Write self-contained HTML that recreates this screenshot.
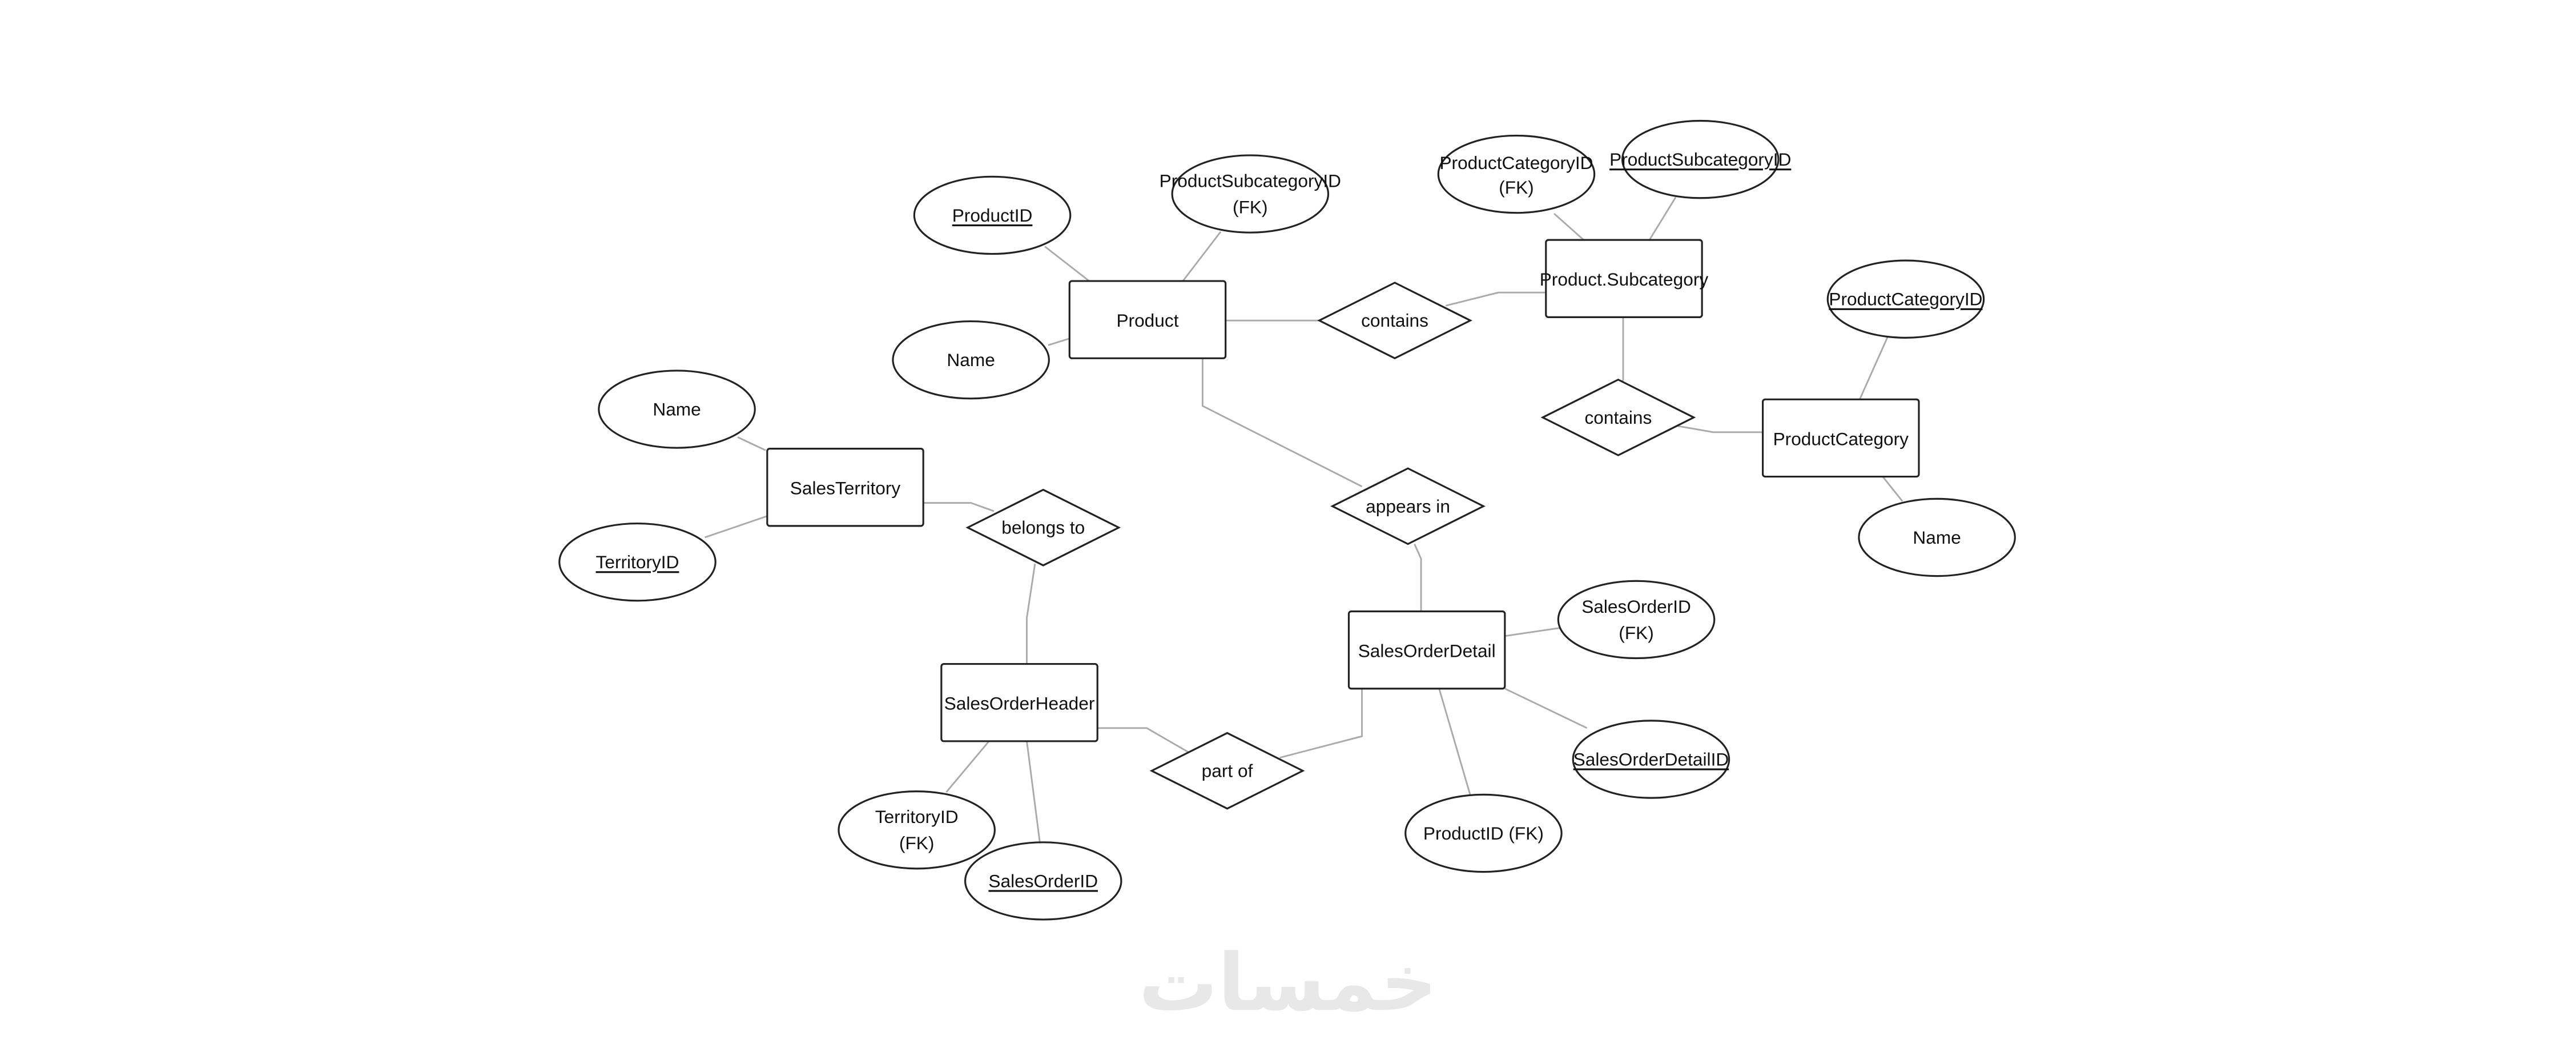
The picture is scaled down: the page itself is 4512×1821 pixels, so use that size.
<!DOCTYPE html>
<html><head><meta charset="utf-8"><style>
html,body{margin:0;padding:0;background:#fff;}
svg{display:block;}
text{font-family:"Liberation Sans",sans-serif;font-size:11px;fill:#111;text-anchor:middle;dominant-baseline:central;}
.l{stroke:#aaa;stroke-width:1;fill:none;}
.s{stroke:#222;stroke-width:1.1;fill:#fff;}
</style></head><body>
<svg width="4512" height="1821" viewBox="0 0 1568 632.8" preserveAspectRatio="none" xmlns="http://www.w3.org/2000/svg">
<rect width="1568" height="632.8" fill="#fff"/>
<text x="784" y="598" style="font-family:'DejaVu Sans',sans-serif;font-size:48px;fill:#e8e8e8;font-weight:bold;letter-spacing:4px">خمسات</text>
<g class="l">
<polyline points="636,150 663,171"/>
<polyline points="743,141 720,171"/>
<polyline points="638,210 651,206"/>
<polyline points="746,195 803,195"/>
<polyline points="880,186 912,178 941,178"/>
<polyline points="946,130 964,146"/>
<polyline points="1020,120 1004,146"/>
<polyline points="988,193 988,231 987,233"/>
<polyline points="1020,259 1043,263 1073,263"/>
<polyline points="1149,205 1132,243"/>
<polyline points="1146,290 1158,305"/>
<polyline points="732,218 732,247 829,296"/>
<polyline points="861,331 865,340 865,372"/>
<polyline points="916,387 950,382"/>
<polyline points="916,419 966,443"/>
<polyline points="876,419 895,484"/>
<polyline points="829,419 829,448 779,461"/>
<polyline points="724,458 698,443 668,443"/>
<polyline points="602,451 576,482"/>
<polyline points="625,451 633,513"/>
<polyline points="625,404 625,376 630,343"/>
<polyline points="605,311 591,306 562,306"/>
<polyline points="466,274 449,266"/>
<polyline points="467,314 429,327"/>
</g>
<g class="s">
<rect x="651" y="171" width="95" height="47" rx="1.5"/>
<rect x="941" y="146" width="95" height="47" rx="1.5"/>
<rect x="1073" y="243" width="95" height="47" rx="1.5"/>
<rect x="467" y="273" width="95" height="47" rx="1.5"/>
<rect x="573" y="404" width="95" height="47" rx="1.5"/>
<rect x="821" y="372" width="95" height="47" rx="1.5"/>
<polygon points="803,195 849,172 895,195 849,218"/>
<polygon points="939,254 985,231 1031,254 985,277"/>
<polygon points="811,308 857,285 903,308 857,331"/>
<polygon points="589,321 635,298 681,321 635,344"/>
<polygon points="701,469 747,446 793,469 747,492"/>
<ellipse cx="604" cy="131" rx="47.5" ry="23.5"/>
<ellipse cx="761" cy="118" rx="47.5" ry="23.5"/>
<ellipse cx="591" cy="219" rx="47.5" ry="23.5"/>
<ellipse cx="923" cy="106" rx="47.5" ry="23.5"/>
<ellipse cx="1035" cy="97" rx="47.5" ry="23.5"/>
<ellipse cx="1160" cy="182" rx="47.5" ry="23.5"/>
<ellipse cx="412" cy="249" rx="47.5" ry="23.5"/>
<ellipse cx="388" cy="342" rx="47.5" ry="23.5"/>
<ellipse cx="1179" cy="327" rx="47.5" ry="23.5"/>
<ellipse cx="996" cy="377" rx="47.5" ry="23.5"/>
<ellipse cx="1005" cy="462" rx="47.5" ry="23.5"/>
<ellipse cx="903" cy="507" rx="47.5" ry="23.5"/>
<ellipse cx="558" cy="505" rx="47.5" ry="23.5"/>
<ellipse cx="635" cy="536" rx="47.5" ry="23.5"/>
</g>
<text x="698.5" y="195">Product</text>
<text x="988.5" y="170">Product.Subcategory</text>
<text x="1120.5" y="267">ProductCategory</text>
<text x="514.5" y="297">SalesTerritory</text>
<text x="620.5" y="428">SalesOrderHeader</text>
<text x="868.5" y="396">SalesOrderDetail</text>
<text x="849" y="195">contains</text>
<text x="985" y="254">contains</text>
<text x="857" y="308">appears in</text>
<text x="635" y="321">belongs to</text>
<text x="747" y="469">part of</text>
<text x="604" y="131" text-decoration="underline">ProductID</text>
<text x="761" y="110">ProductSubcategoryID</text>
<text x="761" y="126">(FK)</text>
<text x="591" y="219">Name</text>
<text x="923" y="99">ProductCategoryID</text>
<text x="923" y="114">(FK)</text>
<text x="1035" y="97" text-decoration="underline">ProductSubcategoryID</text>
<text x="1160" y="182" text-decoration="underline">ProductCategoryID</text>
<text x="412" y="249">Name</text>
<text x="388" y="342" text-decoration="underline">TerritoryID</text>
<text x="1179" y="327">Name</text>
<text x="996" y="369">SalesOrderID</text>
<text x="996" y="385">(FK)</text>
<text x="1005" y="462" text-decoration="underline">SalesOrderDetailID</text>
<text x="903" y="507">ProductID (FK)</text>
<text x="558" y="497">TerritoryID</text>
<text x="558" y="513">(FK)</text>
<text x="635" y="536" text-decoration="underline">SalesOrderID</text>
</svg>
</body></html>
